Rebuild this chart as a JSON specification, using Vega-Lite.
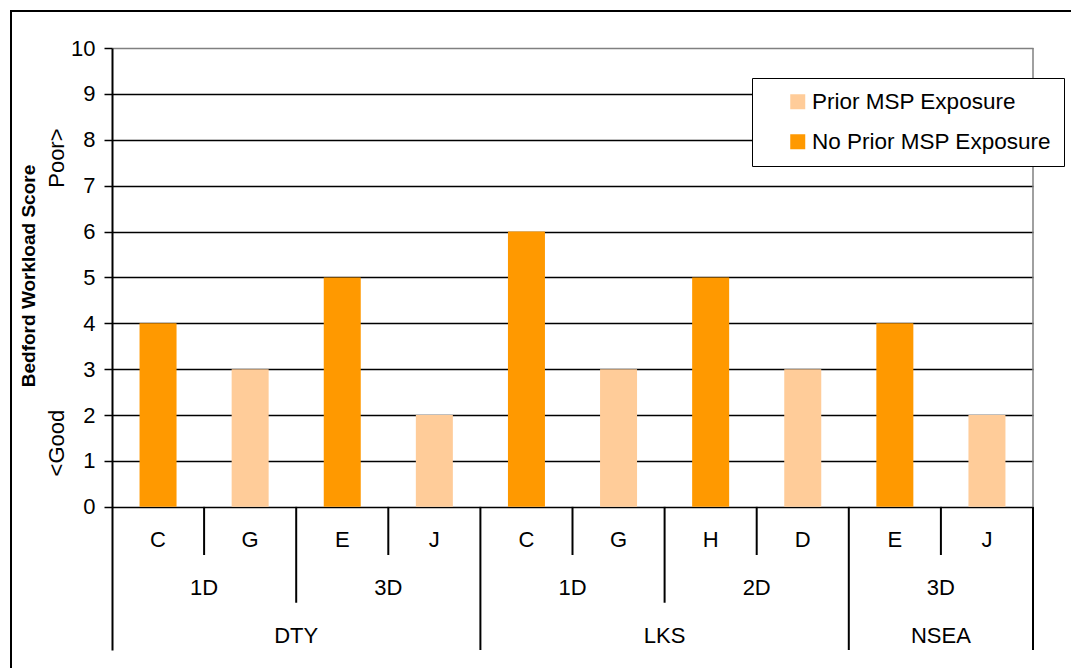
{
  "$schema": "https://vega.github.io/schema/vega-lite/v6.json",
  "width": 921,
  "height": 602,
  "autosize": {"type": "none"},
  "padding": {"left": 112, "top": 48, "right": 38, "bottom": 18},
  "config": {"font": "Liberation Sans", "view": {"stroke": null}},
  "datasets": {
    "bars": [
      {"pos": 0.5, "group": "DTY", "sub": "1D", "id": "C", "score": 4, "exposure": "No Prior MSP Exposure"},
      {"pos": 1.5, "group": "DTY", "sub": "1D", "id": "G", "score": 3, "exposure": "Prior MSP Exposure"},
      {"pos": 2.5, "group": "DTY", "sub": "3D", "id": "E", "score": 5, "exposure": "No Prior MSP Exposure"},
      {"pos": 3.5, "group": "DTY", "sub": "3D", "id": "J", "score": 2, "exposure": "Prior MSP Exposure"},
      {"pos": 4.5, "group": "LKS", "sub": "1D", "id": "C", "score": 6, "exposure": "No Prior MSP Exposure"},
      {"pos": 5.5, "group": "LKS", "sub": "1D", "id": "G", "score": 3, "exposure": "Prior MSP Exposure"},
      {"pos": 6.5, "group": "LKS", "sub": "2D", "id": "H", "score": 5, "exposure": "No Prior MSP Exposure"},
      {"pos": 7.5, "group": "LKS", "sub": "2D", "id": "D", "score": 3, "exposure": "Prior MSP Exposure"},
      {"pos": 8.5, "group": "NSEA", "sub": "3D", "id": "E", "score": 4, "exposure": "No Prior MSP Exposure"},
      {"pos": 9.5, "group": "NSEA", "sub": "3D", "id": "J", "score": 2, "exposure": "Prior MSP Exposure"}
    ],
    "axislabels": [
      {"x": 0.5, "y": -0.724, "label": "C"},
      {"x": 1.5, "y": -0.724, "label": "G"},
      {"x": 2.5, "y": -0.724, "label": "E"},
      {"x": 3.5, "y": -0.724, "label": "J"},
      {"x": 4.5, "y": -0.724, "label": "C"},
      {"x": 5.5, "y": -0.724, "label": "G"},
      {"x": 6.5, "y": -0.724, "label": "H"},
      {"x": 7.5, "y": -0.724, "label": "D"},
      {"x": 8.5, "y": -0.724, "label": "E"},
      {"x": 9.5, "y": -0.724, "label": "J"},
      {"x": 1, "y": -1.77, "label": "1D"},
      {"x": 3, "y": -1.77, "label": "3D"},
      {"x": 5, "y": -1.77, "label": "1D"},
      {"x": 7, "y": -1.77, "label": "2D"},
      {"x": 9, "y": -1.77, "label": "3D"},
      {"x": 2, "y": -2.816, "label": "DTY"},
      {"x": 6, "y": -2.816, "label": "LKS"},
      {"x": 9, "y": -2.816, "label": "NSEA"}
    ],
    "separators": [
      {"x": 1, "y0": 0, "y1": -1.05},
      {"x": 3, "y0": 0, "y1": -1.05},
      {"x": 5, "y0": 0, "y1": -1.05},
      {"x": 7, "y0": 0, "y1": -1.05},
      {"x": 9, "y0": 0, "y1": -1.05},
      {"x": 2, "y0": 0, "y1": -2.09},
      {"x": 6, "y0": 0, "y1": -2.09},
      {"x": 4, "y0": 0, "y1": -3.12},
      {"x": 8, "y0": 0, "y1": -3.12},
      {"x": 10, "y0": 0, "y1": -3.12}
    ],
    "sidelabels": [
      {"x": -0.597, "y": 1.39, "label": "<Good"},
      {"x": -0.597, "y": 7.6, "label": "Poor>"}
    ]
  },
  "layer": [
    {
      "data": {"name": "bars"},
      "mark": {"type": "bar", "width": 37},
      "encoding": {
        "x": {"field": "pos", "type": "quantitative", "axis": null, "scale": {"domain": [0, 10], "nice": false, "zero": false, "padding": 0}},
        "y": {
          "field": "score",
          "type": "quantitative",
          "scale": {"domain": [-3.12, 10], "nice": false, "zero": false, "padding": 0},
          "axis": {
            "values": [0, 1, 2, 3, 4, 5, 6, 7, 8, 9, 10],
            "title": "Bedford Workload Score",
            "titleFontSize": 19,
            "titleFontWeight": "bold",
            "titleColor": "black",
            "titleX": -83.5,
            "titleY": 227.5,
            "titleAngle": 270,
            "titleBaseline": "middle",
            "titleAlign": "center",
            "labelFontSize": 22,
            "labelColor": "black",
            "labelPadding": 9,
            "labelFlush": false,
            "labelOverlap": false,
            "tickSize": 8,
            "tickColor": "black",
            "tickWidth": 1.5,
            "domainColor": "black",
            "domainWidth": 2,
            "grid": true,
            "gridColor": {"condition": {"test": "datum.value === 10", "value": "#808080"}, "value": "black"},
            "gridWidth": 1.5
          }
        },
        "y2": {"datum": 0},
        "color": {
          "field": "exposure",
          "type": "nominal",
          "scale": {"domain": ["Prior MSP Exposure", "No Prior MSP Exposure"], "range": ["#FFCC99", "#FF9900"]},
          "legend": {
            "title": null,
            "orient": "none",
            "legendX": 640,
            "legendY": 30,
            "strokeColor": "black",
            "fillColor": "white",
            "padding": 12.5,
            "symbolType": "square",
            "symbolSize": 225,
            "symbolStrokeWidth": 0,
            "symbolOffset": 22,
            "labelFontSize": 22.5,
            "labelColor": "black",
            "labelOffset": 3,
            "labelLimit": 400,
            "rowPadding": 17
          }
        }
      }
    },
    {
      "data": {"name": "separators"},
      "mark": {"type": "rule", "stroke": "black", "strokeWidth": 2},
      "encoding": {
        "x": {"field": "x", "type": "quantitative"},
        "y": {"field": "y0", "type": "quantitative"},
        "y2": {"field": "y1"}
      }
    },
    {
      "data": {"values": [{}]},
      "mark": {"type": "rule", "stroke": "#808080", "strokeWidth": 1.5},
      "encoding": {
        "x": {"datum": 10, "type": "quantitative"},
        "y": {"datum": 0, "type": "quantitative"},
        "y2": {"datum": 10}
      }
    },
    {
      "data": {"values": [{}]},
      "mark": {"type": "rect", "filled": false, "stroke": "black", "strokeWidth": 2},
      "encoding": {
        "x": {"datum": -1.0966, "type": "quantitative"},
        "x2": {"datum": 10.73},
        "y": {"datum": 10.806, "type": "quantitative"},
        "y2": {"datum": -4}
      }
    },
    {
      "data": {"name": "axislabels"},
      "mark": {"type": "text", "fontSize": 22, "color": "black", "align": "center", "baseline": "middle"},
      "encoding": {
        "x": {"field": "x", "type": "quantitative"},
        "y": {"field": "y", "type": "quantitative"},
        "text": {"field": "label"}
      }
    },
    {
      "data": {"name": "sidelabels"},
      "mark": {"type": "text", "fontSize": 22, "color": "black", "align": "center", "baseline": "middle", "angle": 270},
      "encoding": {
        "x": {"field": "x", "type": "quantitative"},
        "y": {"field": "y", "type": "quantitative"},
        "text": {"field": "label"}
      }
    }
  ]
}
